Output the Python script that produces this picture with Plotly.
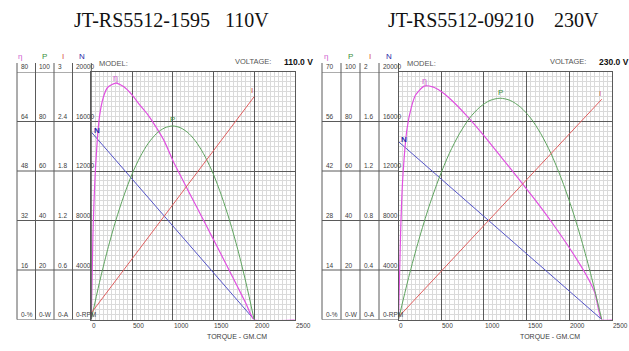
import plotly.graph_objects as go

W, H = 629, 351

# ---------------- LEFT motor : JT-RS5512-1595 110V ----------------
L_title = "JT-RS5512-1595\u00a0\u00a0\u00a0110V"
L_voltage = "110.0 V"
L_torque_lin = [0, 2000]                 # gf.cm
L_speed = [15150, 0]                     # rpm
L_current = [0.079, 2.70]                # A
L_torque_p = [0, 100, 200, 300, 400, 500, 600, 700, 800, 900, 1000,
              1100, 1200, 1300, 1400, 1500, 1600, 1700, 1800, 1900, 2000]
L_power = [0, 14.9, 28.2, 39.9, 50.0, 58.7, 65.7, 71.2, 75.1, 77.4, 78.2,
           77.4, 75.1, 71.2, 65.7, 58.7, 50.0, 39.9, 28.2, 14.9, 0]
L_torque_e = [0, 20, 50, 100, 150, 200, 300, 400, 500, 600, 700, 800, 900, 1000,
              1100, 1200, 1300, 1400, 1500, 1600, 1700, 1800, 1900, 2000, 2500]
L_eff = [0, 27, 48, 65.5, 72, 75, 76.4, 75.2, 72.6, 69.2, 66, 62, 57.5, 51.5,
         46.3, 41.1, 36.1, 31.0, 25.9, 20.8, 15.6, 10.4, 5.2, 0, 0]
L_eta_ticks = [0, 16, 32, 48, 64, 80]
L_p_ticks = [0, 20, 40, 60, 80, 100]
L_i_ticks = [0, 0.6, 1.2, 1.8, 2.4, 3]
L_n_ticks = [0, 4000, 8000, 12000, 16000, 20000]
L_eta_text = ["0-%", "16", "32", "48", "64", "80"]
L_p_text = ["0-W", "20", "40", "60", "80", "100"]
L_i_text = ["0-A", "0.6", "1.2", "1.8", "2.4", "3"]
L_n_text = ["0-RPM", "4000", "8000", "12000", "16000", "20000"]

# ---------------- RIGHT motor : JT-RS5512-09210 230V ----------------
R_title = "JT-RS5512-09210\u00a0\u00a0\u00a0\u00a0230V"
R_voltage = "230.0 V"
R_torque_lin = [0, 2380]
R_speed = [14370, 0]
R_current = [0.02, 1.78]
R_torque_p = [0, 119, 238, 357, 476, 595, 714, 833, 952, 1071, 1190,
              1309, 1428, 1547, 1666, 1785, 1904, 2023, 2142, 2261, 2380]
R_power = [0, 17.0, 32.2, 45.6, 57.2, 67.1, 75.1, 81.4, 85.8, 88.5, 89.4,
           88.5, 85.8, 81.4, 75.1, 67.1, 57.2, 45.6, 32.2, 17.0, 0]
R_torque_e = [0, 25, 50, 100, 150, 200, 300, 400, 500, 600, 800, 1000,
              1200, 1400, 1600, 1800, 2000, 2200, 2300, 2380, 2500]
R_eff = [0, 25, 40, 54, 60, 63.5, 66, 65.8, 64.5, 62.5, 57.6, 52,
         46, 40, 33.8, 27.3, 20.3, 12.5, 7.5, 0, 0]
R_eta_ticks = [0, 14, 28, 42, 56, 70]
R_p_ticks = [0, 20, 40, 60, 80, 100]
R_i_ticks = [0, 0.4, 0.8, 1.2, 1.6, 2]
R_n_ticks = [0, 4000, 8000, 12000, 16000, 20000]
R_eta_text = ["0-%", "14", "28", "42", "56", "70"]
R_p_text = ["0-W", "20", "40", "60", "80", "100"]
R_i_text = ["0-A", "0.4", "0.8", "1.2", "1.6", "2"]
R_n_text = ["0-RPM", "4000", "8000", "12000", "16000", "20000"]

X_TICKS = [0, 500, 1000, 1500, 2000, 2500]
X_TEXT = ["0", "500", "1000", "1500", "2000", "2500"]

# ---------------- styles ----------------
C_ETA, C_P, C_I, C_N = "#e050e0", "#5fa35f", "#e06060", "#5555c8"
C_ETA_T, C_P_T, C_I_T, C_N_T = "#d060d0", "#3d8f3d", "#d84848", "#2a2aa8"
MAJ, MIN = "#5a5a5a", "#dadada"
NARROW = "Liberation Sans Narrow, Liberation Sans, Arial, sans-serif"
SANS = "Liberation Sans, Arial, sans-serif"

def px(x):
    return x / W

def py(y):
    return 1 - y / H

Y_TOP, Y_BOT = 72, 319.5
panels = [
    dict(x0=91.3, x1=294.8, cols=[17, 35.5, 54, 72.5, 91.3], xs="", ys=["", "2", "3", "4"],
         title=L_title, tx=171, volt=L_voltage, vx=(273, 282),
         tl=L_torque_lin, sp=L_speed, cu=L_current, tp=L_torque_p, pw=L_power,
         te=L_torque_e, ef=L_eff, ranges=[(0, 20000), (0, 80), (0, 100), (0, 3)],
         ticks=[L_n_ticks, L_eta_ticks, L_p_ticks, L_i_ticks],
         texts=[L_n_text, L_eta_text, L_p_text, L_i_text],
         hdr=[19.5, 44.5, 63, 81.5], torque_lbl=237),
    dict(x0=398.5, x1=612, cols=[322, 341, 360, 379, 398.5], xs="2", ys=["5", "6", "7", "8"],
         title=R_title, tx=493, volt=R_voltage, vx=(588, 597),
         tl=R_torque_lin, sp=R_speed, cu=R_current, tp=R_torque_p, pw=R_power,
         te=R_torque_e, ef=R_eff, ranges=[(0, 20000), (0, 70), (0, 100), (0, 2)],
         ticks=[R_n_ticks, R_eta_ticks, R_p_ticks, R_i_ticks],
         texts=[R_n_text, R_eta_text, R_p_text, R_i_text],
         hdr=[326, 350.5, 369.5, 388.5], torque_lbl=549.5),
]

fig = go.Figure()
layout = dict(width=W, height=H, margin=dict(l=0, r=0, t=0, b=0),
              paper_bgcolor="white", plot_bgcolor="white", showlegend=False)
shapes, annos = [], []

for p in panels:
    xa = "x" + p["xs"]
    yn, ye, yp, yi = ["y" + s for s in p["ys"]]
    xkey = "xaxis" + p["xs"]
    dom_x = [px(p["x0"]), px(p["x1"])]
    dom_y = [py(Y_BOT), py(Y_TOP)]
    layout[xkey] = dict(domain=dom_x, range=[0, 2500], anchor=yn, showgrid=True,
                        gridcolor=MAJ, gridwidth=1, dtick=500, tick0=0,
                        minor=dict(dtick=50, showgrid=True, gridcolor=MIN, gridwidth=1),
                        showticklabels=False, ticks="", zeroline=False,
                        showline=True, linecolor=MAJ, mirror=True)
    for k, (ys, rng) in enumerate(zip(p["ys"], p["ranges"])):
        d = dict(domain=dom_y, range=list(rng), anchor=xa, showticklabels=False,
                 ticks="", zeroline=False)
        if k == 0:
            d.update(showgrid=True, gridcolor=MAJ, gridwidth=1, dtick=4000, tick0=0,
                     minor=dict(dtick=400, showgrid=True, gridcolor=MIN, gridwidth=1),
                     showline=True, linecolor=MAJ, mirror=True)
        else:
            d.update(overlaying=yn, showgrid=False, visible=False)
        layout["yaxis" + ys] = d

    # curves
    fig.add_trace(go.Scatter(x=p["tl"], y=p["cu"], xaxis=xa, yaxis=yi, mode="lines",
                             line=dict(color=C_I, width=1)))
    fig.add_trace(go.Scatter(x=p["tp"], y=p["pw"], xaxis=xa, yaxis=yp, mode="lines",
                             line=dict(color=C_P, width=1, shape="spline", smoothing=0.8)))
    fig.add_trace(go.Scatter(x=p["tl"], y=p["sp"], xaxis=xa, yaxis=yn, mode="lines",
                             line=dict(color=C_N, width=1)))
    fig.add_trace(go.Scatter(x=p["te"], y=p["ef"], xaxis=xa, yaxis=ye, mode="lines",
                             line=dict(color=C_ETA, width=1.2, shape="spline", smoothing=0.6)))

    # left scale columns
    c = p["cols"]
    for xc in c:
        shapes.append(dict(type="line", xref="paper", yref="paper", x0=px(xc), x1=px(xc),
                           y0=py(63), y1=py(Y_BOT), line=dict(color=MAJ, width=1)))
    for v in p["ticks"][0]:
        shapes.append(dict(type="line", xref="paper", yref=yn, x0=px(c[0]), x1=px(c[-1]),
                           y0=v, y1=v, line=dict(color=MAJ, width=1)))
    col_axes = [(ye, p["ticks"][1], p["texts"][1]), (yp, p["ticks"][2], p["texts"][2]),
                (yi, p["ticks"][3], p["texts"][3]), (yn, p["ticks"][0], p["texts"][0])]
    for ci, (yax, tv, tt) in enumerate(col_axes):
        for v, t in zip(tv, tt):
            annos.append(dict(xref="paper", yref=yax, x=px(c[ci] + 1.5), y=v, yshift=5,
                              text=t, showarrow=False, xanchor="left", yanchor="middle",
                              font=dict(family=NARROW, size=6.5, color="#404040")))
    for hx, txt, col in zip(p["hdr"], ["η", "P", "I", "N"], [C_ETA_T, C_P_T, C_I_T, C_N_T]):
        annos.append(dict(xref="paper", yref="paper", x=px(hx), y=py(56), text=txt,
                          showarrow=False, xanchor="center", yanchor="middle",
                          font=dict(family=SANS, size=8, color=col)))

    for v, t in zip(X_TICKS, X_TEXT):
        annos.append(dict(xref=xa, yref="paper", x=v, y=py(325.5), xshift=-1, text=t,
                          showarrow=False, xanchor="left", yanchor="middle",
                          font=dict(family=NARROW, size=6.5, color="#404040")))
    annos.append(dict(xref="paper", yref="paper", x=px(p["torque_lbl"]), y=py(337),
                      text="TORQUE - GM.CM", showarrow=False, xanchor="center",
                      yanchor="middle", font=dict(family=NARROW, size=7, color="#404040")))
    annos.append(dict(xref="paper", yref="paper", x=px(p["x0"] + 6), y=py(63), text="MODEL:",
                      showarrow=False, xanchor="left", yanchor="middle",
                      font=dict(family=SANS, size=7.5, color="#555555")))
    annos.append(dict(xref="paper", yref="paper", x=px(p["vx"][0]), y=py(62), text="VOLTAGE:",
                      showarrow=False, xanchor="right", yanchor="middle",
                      font=dict(family=SANS, size=7.5, color="#555555")))
    annos.append(dict(xref="paper", yref="paper", x=px(p["vx"][1]), y=py(62), text="<b>" + p["volt"] + "</b>",
                      showarrow=False, xanchor="left", yanchor="middle",
                      font=dict(family=SANS, size=8.5, color="#111111")))
    annos.append(dict(xref="paper", yref="paper", x=px(p["tx"]), y=py(20), text=p["title"],
                      showarrow=False, xanchor="center", yanchor="middle",
                      font=dict(family="Liberation Serif, serif", size=20, color="#111111")))

    ipk = p["pw"].index(max(p["pw"]))
    epk = p["ef"].index(max(p["ef"]))
    annos += [
        dict(xref=xa, yref=yn, x=p["tl"][0], y=p["sp"][0], xshift=6, yshift=2, text="<b>N</b>",
             showarrow=False, font=dict(family=SANS, size=8, color=C_N_T)),
        dict(xref=xa, yref=ye, x=p["te"][epk], y=p["ef"][epk], yshift=5, text="η",
             showarrow=False, font=dict(family=SANS, size=9, color=C_ETA_T)),
        dict(xref=xa, yref=yp, x=p["tp"][ipk], y=p["pw"][ipk], yshift=6, text="P",
             showarrow=False, font=dict(family=SANS, size=8, color=C_P_T)),
        dict(xref=xa, yref=yi, x=p["tl"][1], y=p["cu"][1], xshift=-2, yshift=6, text="I",
             showarrow=False, font=dict(family=SANS, size=8, color=C_I_T)),
    ]

layout["shapes"] = shapes
layout["annotations"] = annos
fig.update_layout(**layout)
fig.write_html("out.html")
